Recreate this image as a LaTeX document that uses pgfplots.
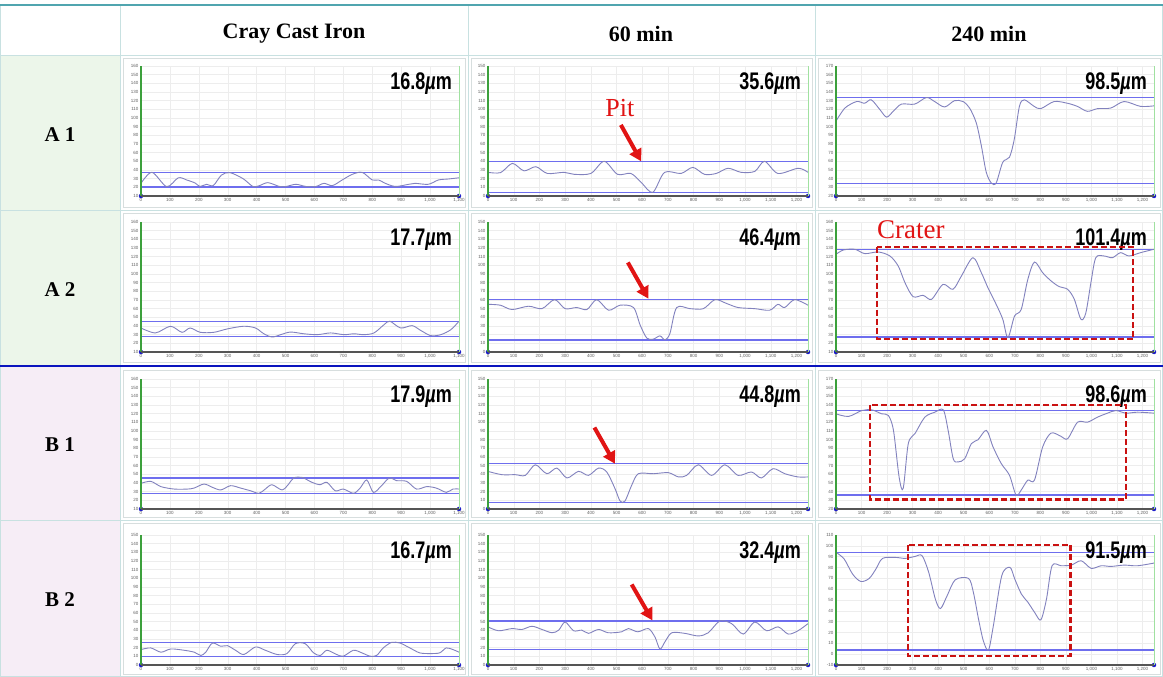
\documentclass[border=0pt]{standalone}
\usepackage{fontspec}
\setmainfont{Liberation Serif}
\setsansfont{Liberation Sans}
\newfontfamily\valfont[FakeStretch=0.75]{Liberation Sans}
\usepackage{pgfplots}
\pgfplotsset{compat=1.18}
\usetikzlibrary{arrows.meta}
\definecolor{profile}{RGB}{130,130,190}
\definecolor{refblue}{RGB}{110,110,238}
\definecolor{leftgreen}{RGB}{60,160,60}
\definecolor{rightgreen}{RGB}{160,225,160}
\definecolor{axgray}{RGB}{85,85,85}
\definecolor{dotblue}{RGB}{20,20,200}
\definecolor{cellgreen}{RGB}{236,246,234}
\definecolor{cellpink}{RGB}{246,237,246}
\definecolor{tline}{RGB}{200,225,225}
\definecolor{topteal}{RGB}{80,165,175}
\definecolor{rowblue}{RGB}{10,20,190}
\definecolor{annred}{RGB}{225,20,20}
\definecolor{framegray}{RGB}{215,222,222}
\newcommand\tickfont{\fontsize{4.5}{5}\selectfont\sffamily}
\tikzset{
  vallabel/.style={anchor=north east, inner sep=0pt, xshift=-7pt, yshift=-7pt,
    font=\valfont\bfseries\fontsize{24}{26}\selectfont},
  arr/.style={annred, line width=4pt, -{Triangle[length=12pt,width=13pt]}},
  crater/.style={annred!90!black, line width=2.2pt, dash pattern=on 6pt off 3pt},
}
\pgfplotsset{
  panel/.style={scale only axis, height=130pt, anchor=south west, xmin=0,
    clip=false, grid=major, grid style={gray!14, line width=0.4pt},
    axis line style={draw=none}, tick style={draw=none},
    ytick distance=10,
    ticklabel style={font=\tickfont, text=gray!75!black},
    yticklabel style={xshift=1pt},
    xticklabel style={yshift=1pt},
    /pgf/number format/assume math mode=true,
    extra description/.code={
      \draw[leftgreen, line width=1.1pt] (0,0) -- (0,1);
      \draw[rightgreen, line width=0.7pt] (1,0) -- (1,1);
      \draw[axgray, line width=1.6pt] (0,0) -- (1,0);
    }},
  c1/.style={panel, width=318pt, xmax=1100, xtick={0,100,...,1100}},
  c2/.style={panel, width=320pt, xmax=1245, xtick={0,100,...,1200}},
  c3/.style={panel, width=318pt, xmax=1245, xtick={0,100,...,1200}},
  prof/.style={profile, line width=0.9pt, smooth},
  refl/.style={refblue, line width=1.4pt},
  dots/.style={only marks, mark=*, mark size=2pt, dotblue},
}
\begin{document}
\begin{tikzpicture}[x=1pt,y=1pt]
\useasboundingbox (0,0) rectangle (1163,677);
\fill[white] (0,0) rectangle (1163,677);
% left column shading
\fill[cellgreen] (0,312) rectangle (120,622);
\fill[cellpink] (0,0) rectangle (120,310);
% chart frames
\foreach \xa/\xb in {120/468,468/815,815/1163}{
  \foreach \ya/\yb in {467/622,312/467,157/310,0/157}{
    \draw[framegray, line width=0.8pt] (\xa+3,\ya+3) rectangle (\xb-3,\yb-3);
  }
}
% table lines
\foreach \yy in {622,467,157,0.5}{\draw[tline, line width=0.8pt] (0,\yy) -- (1163,\yy);}
\foreach \xx in {0.5,120,468,815,1162.5}{\draw[tline, line width=0.8pt] (\xx,0) -- (\xx,672);}
\draw[topteal, line width=1.5pt] (0,672) -- (1163,672);
\draw[rowblue, line width=2.5pt] (0,311) -- (1163,311);
% headers
\node[font=\bfseries\fontsize{22}{24}\selectfont] at (294,643) {Cray Cast Iron};
\node[font=\bfseries\fontsize{22}{24}\selectfont] at (641,643) {60 min};
\node[font=\bfseries\fontsize{22}{24}\selectfont] at (989,643) {240 min};
\node[font=\bfseries\fontsize{21}{24}\selectfont] at (60,542) {A 1};
\node[font=\bfseries\fontsize{21}{24}\selectfont] at (60,387) {A 2};
\node[font=\bfseries\fontsize{21}{24}\selectfont] at (60,232) {B 1};
\node[font=\bfseries\fontsize{21}{24}\selectfont] at (60,77) {B 2};

% ===== Row A1 =====
\begin{axis}[c1, at={(141pt,481pt)}, ymin=10, ymax=160]
\addplot[refl] coordinates {(0,37.3) (1100,37.3)};
\addplot[refl] coordinates {(0,20.5) (1100,20.5)};
\addplot[prof] coordinates {(0,24.6)(38,37.3)(89,20.8)(129,31)(158,28.5)(187,25)(204,21)(227,23.5)(250,22)(278,34)(307,37)(353,30)(387,21)(410,22)(439,25.4)(479,21)(502,21)(536,23.5)(570,21)(605,21)(633,24.6)(662,22)(696,28.5)(731,35)(765,37.3)(800,28.5)(822,28.5)(845,24.6)(880,21)(926,23.5)(948,24.6)(994,23.5)(1029,28.5)(1063,29.6)(1100,31)};
\addplot[dots] coordinates {(0,10) (1100,10)};
\node[vallabel] at (rel axis cs:1,1) {16.8{\itshape µ}m};
\end{axis}
\begin{axis}[c2, at={(488pt,481pt)}, ymin=0, ymax=150]
\addplot[refl] coordinates {(0,40) (1245,40)};
\addplot[refl] coordinates {(0,4.2) (1245,4.2)};
\addplot[prof] coordinates {(0,27.3)(49,27)(95,37.6)(140,29)(186,33.8)(231,26)(296,27.3)(335,25)(400,26)(452,40)(504,25)(556,26)(596,15.7)(641,4.2)(687,27.3)(751,26)(797,33)(842,25)(888,26)(934,32)(985,27.3)(1038,28.4)(1076,40)(1128,26)(1207,32)(1245,27.3)};
\addplot[dots] coordinates {(0,0) (1245,0)};
\node[vallabel] at (rel axis cs:1,1) {35.6{\itshape µ}m};
\node[annred, anchor=base, font=\fontsize{26}{28}\selectfont] at (axis cs:513,92) {Pit};
\draw[arr] (axis cs:517,82) -- (axis cs:596,40);
\end{axis}
\begin{axis}[c3, at={(836pt,481pt)}, ymin=20, ymax=170]
\addplot[refl] coordinates {(0,133.6) (1245,133.6)};
\addplot[refl] coordinates {(0,34.4) (1245,34.4)};
\addplot[prof] coordinates {(0,106.4)(35,121.5)(81,129)(112,127)(138,131)(172,119.6)(198,111)(224,117.7)(256,126)(308,126)(354,133.6)(386,129)(425,122.7)(464,130)(497,129)(523,121.5)(549,104.5)(569,78)(588,47.7)(608,35)(627,35)(653,59)(679,64.7)(698,85.5)(718,123.4)(737,131)(776,123.4)(802,120.8)(854,129)(906,127)(945,123.4)(984,117.7)(1024,120.8)(1076,121.5)(1128,129)(1192,123.4)(1245,124)};
\addplot[dots] coordinates {(0,20) (1245,20)};
\node[vallabel] at (rel axis cs:1,1) {98.5{\itshape µ}m};
\end{axis}

% ===== Row A2 =====
\begin{axis}[c1, at={(141pt,325pt)}, ymin=10, ymax=160]
\addplot[refl] coordinates {(0,45.5) (1100,45.5)};
\addplot[refl] coordinates {(0,28.1) (1100,28.1)};
\addplot[prof] coordinates {(0,37.7)(50,32)(102,39.7)(142,32.7)(170,37.7)(205,32.7)(252,32.7)(298,36.6)(355,39.7)(396,37.7)(425,31)(454,27.3)(483,30)(517,33)(564,31)(610,30)(656,32)(702,30)(737,31)(771,30)(806,32)(841,41.6)(861,45.5)(898,37.7)(938,40.4)(967,35)(1002,28.9)(1037,30)(1072,35.8)(1100,45.5)};
\addplot[dots] coordinates {(0,10) (1100,10)};
\node[vallabel] at (rel axis cs:1,1) {17.7{\itshape µ}m};
\end{axis}
\begin{axis}[c2, at={(488pt,325pt)}, ymin=0, ymax=150]
\addplot[refl] coordinates {(0,60.4) (1245,60.4)};
\addplot[refl] coordinates {(0,14) (1245,14)};
\addplot[prof] coordinates {(0,55)(48,54)(93,49)(158,52.8)(210,50)(259,60.4)(300,50)(345,51.3)(385,49)(423,60.4)(469,48.2)(514,54)(566,51.3)(592,31)(618,16)(643,14.8)(669,18.6)(689,14)(708,21.6)(734,51.3)(786,50)(838,50)(883,60.4)(928,56)(973,51.3)(1038,50)(1096,48.2)(1128,55)(1154,51.3)(1193,60.4)(1245,54)};
\addplot[dots] coordinates {(0,0) (1245,0)};
\node[vallabel] at (rel axis cs:1,1) {46.4{\itshape µ}m};
\draw[arr] (axis cs:544,103.3) -- (axis cs:624,61.5);
\end{axis}
\begin{axis}[c3, at={(836pt,325pt)}, ymin=10, ymax=160]
\addplot[refl] coordinates {(0,128.5) (1245,128.5)};
\addplot[refl] coordinates {(0,27.3) (1245,27.3)};
\addplot[prof] coordinates {(0,122.7)(29,127.7)(74,128.5)(113,123.5)(165,125.4)(211,120.8)(244,109)(270,90)(302,73.8)(341,75.4)(374,70.8)(419,88)(458,82.3)(491,97.7)(536,118.8)(569,101.5)(595,84)(627,65)(653,47.7)(673,26.5)(699,51.5)(725,59)(751,93.8)(777,113.8)(809,101.5)(842,92)(874,85.4)(907,82.3)(933,70.8)(959,47.7)(978,55)(998,90)(1017,118.8)(1049,120.8)(1082,118.8)(1114,124.6)(1147,120.8)(1192,124.6)(1245,128.5)};
\addplot[dots] coordinates {(0,10) (1245,10)};
\node[vallabel] at (rel axis cs:1,1) {101.4{\itshape µ}m};
\draw[crater] (axis cs:162,131.5) rectangle (axis cs:1164,24.6);
\node[annred, anchor=base west, inner sep=0pt, font=\fontsize{27}{29}\selectfont] at (axis cs:160,141) {Crater};
\end{axis}

% ===== Row B1 =====
\begin{axis}[c1, at={(141pt,168pt)}, ymin=10, ymax=160]
\addplot[refl] coordinates {(0,45.8) (1100,45.8)};
\addplot[refl] coordinates {(0,28.1) (1100,28.1)};
\addplot[prof] coordinates {(0,39.6)(34,41.9)(69,35.8)(115,33)(161,33)(184,34.2)(218,38.8)(247,35)(276,32)(310,36.9)(344,34.2)(379,31)(408,28.1)(430,33)(453,38)(488,32)(511,38.8)(528,45.8)(557,46.5)(591,40.8)(620,38)(643,40.8)(672,31)(700,33)(735,28.1)(758,34.2)(781,43.5)(804,29.2)(832,36.9)(859,45.8)(884,42.7)(919,41.9)(953,33)(988,35.8)(1021,34.2)(1056,29.2)(1079,33)(1100,33)};
\addplot[dots] coordinates {(0,10) (1100,10)};
\node[vallabel] at (rel axis cs:1,1) {17.9{\itshape µ}m};
\end{axis}
\begin{axis}[c2, at={(488pt,168pt)}, ymin=0, ymax=150]
\addplot[refl] coordinates {(0,52.2) (1245,52.2)};
\addplot[refl] coordinates {(0,7.6) (1245,7.6)};
\addplot[prof] coordinates {(0,43.4)(54,39.6)(106,39.6)(145,38.8)(184,51)(229,40.7)(268,47.2)(307,35.8)(352,43.4)(391,38.8)(430,47.2)(462,42.7)(494,23.6)(514,9.2)(533,9.2)(559,27.4)(585,40.7)(643,40.7)(702,41.9)(741,37)(773,38.8)(818,51)(870,38.8)(922,51)(973,38.8)(1025,42.7)(1064,35.8)(1109,46.5)(1155,40.7)(1206,37)(1245,37)};
\addplot[dots] coordinates {(0,0) (1245,0)};
\node[vallabel] at (rel axis cs:1,1) {44.8{\itshape µ}m};
\draw[arr] (axis cs:414,94) -- (axis cs:494,52.2);
\end{axis}
\begin{axis}[c3, at={(836pt,168pt)}, ymin=20, ymax=170]
\addplot[refl] coordinates {(0,133.6) (1245,133.6)};
\addplot[refl] coordinates {(0,36) (1245,36)};
\addplot[prof] coordinates {(0,129.8)(49,126.8)(101,133.6)(140,134.4)(179,129.8)(205,127.9)(225,110.7)(247,57)(263,43.7)(283,95.4)(309,106.9)(348,126)(387,131.7)(420,134.4)(439,110.7)(459,78)(478,74.3)(504,78)(530,95.4)(556,99.9)(589,110.7)(615,91.5)(647,72.4)(679,59)(705,36)(725,41.8)(751,53.3)(777,53.3)(809,91.5)(842,107.6)(881,103.8)(907,101.1)(946,120.2)(985,120.2)(1024,126)(1063,130.6)(1096,133.6)(1135,130.6)(1181,131.7)(1245,130.6)};
\addplot[dots] coordinates {(0,20) (1245,20)};
\node[vallabel] at (rel axis cs:1,1) {98.6{\itshape µ}m};
\draw[crater] (axis cs:134,140.1) rectangle (axis cs:1135,31);
\end{axis}

% ===== Row B2 =====
\begin{axis}[c1, at={(141pt,12pt)}, ymin=0, ymax=150]
\addplot[refl] coordinates {(0,26.1) (1100,26.1)};
\addplot[refl] coordinates {(0,9.5) (1100,9.5)};
\addplot[prof] coordinates {(0,17.8)(34,19.7)(69,14.8)(103,18.5)(149,17)(184,14.8)(207,11)(224,14.8)(247,25.3)(276,21.6)(299,22.3)(327,17)(356,12.1)(396,20.8)(430,17)(471,12.1)(505,13.2)(534,24.6)(568,24.6)(597,14)(620,11)(643,17)(677,12.1)(700,10.2)(735,17)(764,14)(792,10.2)(815,11)(838,19.7)(867,26.1)(896,25.3)(930,19.7)(964,14)(999,13.2)(1033,14)(1056,19.7)(1079,17.8)(1100,14.8)};
\addplot[dots] coordinates {(0,0) (1100,0)};
\node[vallabel] at (rel axis cs:1,1) {16.7{\itshape µ}m};
\end{axis}
\begin{axis}[c2, at={(488pt,12pt)}, ymin=0, ymax=150]
\addplot[refl] coordinates {(0,50.8) (1245,50.8)};
\addplot[refl] coordinates {(0,17.7) (1245,17.7)};
\addplot[prof] coordinates {(0,44)(41,39.5)(93,42)(132,41)(171,44.7)(210,41)(249,37.2)(275,40.2)(300,49.6)(333,39.5)(365,40.2)(391,36.5)(430,41)(468,37.2)(520,38.3)(546,42)(583,38.3)(624,42)(650,32)(669,18.4)(689,27)(715,37.2)(766,36.5)(818,33.5)(857,37.2)(902,50.8)(948,47.7)(993,35.7)(1038,49.6)(1084,39.5)(1129,44)(1168,35.7)(1206,39.5)(1245,47.7)};
\addplot[dots] coordinates {(0,0) (1245,0)};
\node[vallabel] at (rel axis cs:1,1) {32.4{\itshape µ}m};
\draw[arr] (axis cs:559,92.9) -- (axis cs:639.5,51.5);
\end{axis}
\begin{axis}[c3, at={(836pt,12pt)}, ymin=-10, ymax=110]
\addplot[refl] coordinates {(0,94) (1245,94)};
\addplot[refl] coordinates {(0,3.9) (1245,3.9)};
\addplot[prof] coordinates {(0,94)(32,87.8)(65,73.9)(97,67.1)(130,69.9)(156,78.5)(182,88.4)(233,89.3)(272,88.4)(311,90.3)(337,90.9)(363,75.5)(389,50.8)(409,42.1)(435,53.9)(467,68.7)(519,69.9)(538,56.9)(558,32.3)(577,12.2)(597,3.9)(616,26.1)(649,72.4)(681,80.1)(700,69.3)(726,55.4)(752,47.7)(778,38.4)(802,31.7)(824,50.8)(846,81.6)(882,81.6)(921,82.2)(960,86.2)(999,79.2)(1038,81.6)(1077,81)(1128,82.2)(1180,81.6)(1245,84.1)};
\addplot[dots] coordinates {(0,-10) (1245,-10)};
\node[vallabel] at (rel axis cs:1,1) {91.5{\itshape µ}m};
\draw[crater] (axis cs:283,100.7) rectangle (axis cs:918,-1.7);
\end{axis}
\end{tikzpicture}
\end{document}
